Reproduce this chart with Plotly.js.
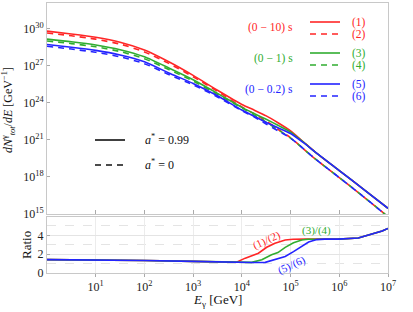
<!DOCTYPE html>
<html>
<head>
<meta charset="utf-8">
<script src="https://cdn.plot.ly/plotly-3.0.1.min.js"></script>
<style>html,body{margin:0;padding:0;background:#fff;}#chart{width:413px;height:312px;}</style>
</head>
<body>
<div id="chart"></div>
<script>
// log10(E_gamma / GeV) sample points for the spectra (top panel)
const logE = [0, 0.5, 1, 1.5, 2, 2.5, 3, 3.5, 4, 4.25, 4.5, 4.75, 5, 5.25, 5.5, 6, 6.5, 7];
// log10(dN/dE)
const s1 = [29.78, 29.55, 29.28, 28.88, 28.25, 27.3, 26.2, 25.0, 23.85, 23.4, 22.93, 22.35, 21.72, 20.88, 20.03, 18.51, 16.99, 15.46];
const s2 = [29.63, 29.40, 29.13, 28.73, 28.10, 27.17, 26.09, 24.91, 23.65, 23.10, 22.52, 21.83, 21.16, 20.32, 19.47, 17.94, 16.39, 14.78];
const s3 = [29.13, 28.92, 28.66, 28.28, 27.7, 26.8, 25.85, 24.75, 23.62, 23.12, 22.65, 22.15, 21.62, 20.85, 20.03, 18.51, 16.99, 15.46];
const s4 = [28.98, 28.77, 28.51, 28.13, 27.55, 26.67, 25.74, 24.66, 23.57, 23.01, 22.41, 21.79, 21.14, 20.31, 19.47, 17.94, 16.39, 14.78];
const s5 = [28.70, 28.48, 28.22, 27.85, 27.3, 26.4, 25.55, 24.55, 23.4, 22.9, 22.4, 21.95, 21.5, 20.8, 20.03, 18.51, 16.99, 15.46];
const s6 = [28.55, 28.33, 28.07, 27.70, 27.15, 26.27, 25.44, 24.46, 23.35, 22.85, 22.27, 21.71, 21.14, 20.32, 19.48, 17.94, 16.39, 14.78];

// ratio panel
const rLogE12 = [0, 1, 2, 3, 3.5, 3.79, 3.89, 4.07, 4.2, 4.34, 4.51, 4.68, 4.89, 5.05, 5.3, 5.6, 5.98, 6.39, 6.67, 6.88, 7];
const r12 = [1.42, 1.4, 1.33, 1.23, 1.17, 1.12, 1.14, 1.58, 1.86, 2.1, 2.73, 3.16, 3.5, 3.58, 3.6, 3.6, 3.6, 3.72, 4.14, 4.46, 4.74];
const rLogE34 = [0, 1, 2, 3, 3.5, 3.79, 4.0, 4.2, 4.41, 4.61, 4.74, 4.89, 5.06, 5.23, 5.36, 5.6, 5.98, 6.39, 6.67, 6.88, 7];
const r34 = [1.42, 1.4, 1.33, 1.23, 1.17, 1.12, 1.11, 1.13, 1.4, 1.93, 2.17, 2.73, 3.22, 3.5, 3.58, 3.6, 3.6, 3.72, 4.14, 4.46, 4.74];
const rLogE56 = [0, 1, 2, 3, 3.5, 3.79, 4.2, 4.48, 4.68, 4.89, 5.06, 5.23, 5.37, 5.54, 5.7, 5.98, 6.39, 6.67, 6.88, 7];
const r56 = [1.42, 1.4, 1.33, 1.23, 1.17, 1.12, 1.11, 1.13, 1.4, 1.75, 2.27, 2.87, 3.29, 3.55, 3.6, 3.6, 3.72, 4.14, 4.46, 4.74];

const yTickExp = [15, 18, 21, 24, 27, 30];
const xTickExp = [1, 2, 3, 4, 5, 6, 7];

const RED = '#ff2626', GREEN = '#30ad30', BLUE = '#2424ff';
const DASH = '6px,5px';
const pw = v => Math.pow(10, v);

function spec(y, color, dash) {
  return {x: logE.map(pw), y: y.map(pw), type: 'scatter', mode: 'lines',
    line: {color: color, width: 1.6, dash: dash, shape: 'spline', smoothing: 0.6}, xaxis: 'x', yaxis: 'y', hoverinfo: 'skip'};
}
function ratio(xe, y, color) {
  return {x: xe.map(pw), y: y, type: 'scatter', mode: 'lines', line: {color: color, width: 1.6},
    xaxis: 'x2', yaxis: 'y2', hoverinfo: 'skip'};
}

const data = [
  spec(s1, RED, 'solid'), spec(s2, RED, DASH),
  spec(s3, GREEN, 'solid'), spec(s4, GREEN, DASH),
  spec(s5, BLUE, 'solid'), spec(s6, BLUE, DASH),
  ratio(rLogE12, r12, RED), ratio(rLogE34, r34, GREEN), ratio(rLogE56, r56, BLUE)
];

const SERIF = '"Liberation Serif", "Times New Roman", Times, serif';
const tickFont = {family: SERIF, size: 12, color: '#222'};
const frame = '#c8c8c8';

const px = v => (v - 47) / 341;
const py = v => (273 - v) / 270;

function hline(x0, x1, y, color, dash) {
  return {type: 'line', xref: 'paper', yref: 'paper', x0: px(x0), x1: px(x1), y0: py(y), y1: py(y),
    line: {color: color, width: 1.6, dash: dash}};
}
function ann(text, x, y, color, xanchor, extra) {
  return Object.assign({text: text, x: px(x), y: py(y), xref: 'paper', yref: 'paper', showarrow: false,
    xanchor: xanchor, yanchor: 'middle', font: {family: SERIF, size: 11.5, color: color}}, extra || {});
}

const layout = {
  width: 413, height: 312,
  margin: {l: 47, r: 25, t: 3, b: 39},
  paper_bgcolor: '#fff', plot_bgcolor: '#fff',
  showlegend: false,
  font: {family: SERIF},
  xaxis: {type: 'log', range: [0, 7], domain: [0, 1], anchor: 'y', showticklabels: false,
    tickvals: xTickExp.map(pw), ticks: 'inside', ticklen: 4, tickcolor: '#aaa',
    showline: true, linecolor: frame, mirror: true, showgrid: false, zeroline: false},
  yaxis: {type: 'log', range: [15, 32.05], domain: [0.2185, 1], anchor: 'x',
    tickvals: yTickExp.map(pw), ticktext: yTickExp.map(e => '10<sup>' + e + '</sup>'),
    ticks: 'inside', ticklen: 3, tickcolor: '#aaa', tickfont: tickFont,
    showline: true, linecolor: frame, mirror: true, showgrid: false, zeroline: false},
  xaxis2: {type: 'log', range: [0, 7], domain: [0, 1], anchor: 'y2',
    tickvals: xTickExp.map(pw), ticktext: xTickExp.map(e => '10<sup>' + e + '</sup>'),
    ticks: 'outside', ticklen: 3, tickcolor: '#aaa', tickfont: tickFont,
    showline: true, linecolor: frame, mirror: true, showgrid: true, gridcolor: '#ececec', zeroline: false},
  yaxis2: {range: [0, 5.95], domain: [0, 0.2074], anchor: 'x2',
    tickmode: 'linear', tick0: 0, dtick: 2, tickfont: tickFont,
    ticks: 'inside', ticklen: 3, tickcolor: '#aaa',
    showline: true, linecolor: frame, mirror: true, showgrid: true, gridcolor: '#e4e4e4', zeroline: false,
    minor: {tickmode: 'linear', tick0: 1, dtick: 2, showgrid: true, gridcolor: '#e4e4e4', griddash: 'dash', ticks: ''}},
  shapes: [
    hline(310, 340, 22, RED, 'solid'), hline(310, 340, 34, RED, DASH),
    hline(310, 340, 53, GREEN, 'solid'), hline(310, 340, 65, GREEN, DASH),
    hline(310, 340, 84, BLUE, 'solid'), hline(310, 340, 96, BLUE, DASH),
    hline(95, 125, 140, '#111', 'solid'), hline(95, 125, 165, '#111', DASH)
  ],
  annotations: [
    ann('(0 − 10) s', 295, 28, RED, 'right'),
    ann('(1)', 350, 22, RED, 'left'), ann('(2)', 350, 34, RED, 'left'),
    ann('(0 − 1) s', 295, 59, GREEN, 'right'),
    ann('(3)', 350, 53, GREEN, 'left'), ann('(4)', 350, 65, GREEN, 'left'),
    ann('(0 − 0.2) s', 295, 90, BLUE, 'right'),
    ann('(5)', 350, 84, BLUE, 'left'), ann('(6)', 350, 96, BLUE, 'left'),
    ann('<i>a</i><sup>*</sup> = 0.99', 143, 139, '#111', 'left', {font: {family: SERIF, size: 12, color: '#111'}}),
    ann('<i>a</i><sup>*</sup> = 0', 143, 164, '#111', 'left', {font: {family: SERIF, size: 12, color: '#111'}}),
    ann('(1)/(2)', 266, 240, RED, 'center', {textangle: -25, font: {family: SERIF, size: 11, color: RED}}),
    ann('(3)/(4)', 316, 230, GREEN, 'center', {font: {family: SERIF, size: 11, color: GREEN}}),
    ann('(5)/(6)', 291, 265, BLUE, 'center', {textangle: -25, font: {family: SERIF, size: 11, color: BLUE}}),
    ann('<i>dN</i><sup>γ</sup><sub><i>tot</i></sub>/<i>dE</i> [GeV<sup>−1</sup>]', 9, 110, '#111', 'center', {textangle: -90, font: {family: SERIF, size: 12, color: '#111'}}),
    ann('Ratio', 26, 245, '#111', 'center', {textangle: -90, font: {family: SERIF, size: 13, color: '#111'}}),
    ann('<i>E</i><sub>γ</sub> [GeV]', 217, 300, '#111', 'center', {font: {family: SERIF, size: 13, color: '#111'}})
  ]
};

Plotly.newPlot('chart', data, layout, {displayModeBar: false, staticPlot: true});
</script>
</body>
</html>
